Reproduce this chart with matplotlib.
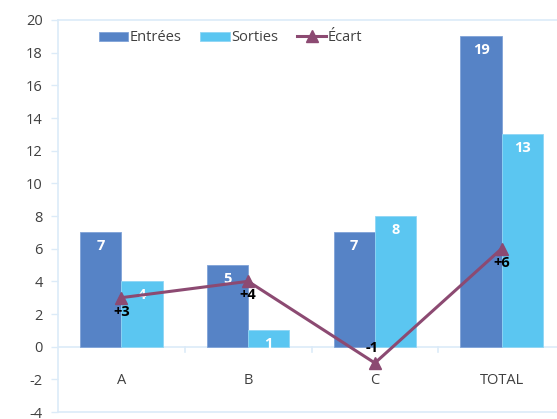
import matplotlib
matplotlib.use("Agg")
import matplotlib.pyplot as plt
import numpy as np

plt.rcParams['font.family'] = ['Open Sans', 'DejaVu Sans']

categories = ["A", "B", "C", "TOTAL"]
entrees = [7, 5, 7, 19]
sorties = [4, 1, 8, 13]
ecart = [3, 4, -1, 6]
ecart_labels = ["+3", "+4", "-1", "+6"]
yticks = list(range(-4, 21, 2))

c_in = "#5683C6"
c_out = "#5BC6F1"
c_line = "#8C4A72"
c_axis = "#DCEBF8"
c_text = "#404040"

fig = plt.figure(figsize=(5.57, 4.19), dpi=100)
ax = fig.add_axes([58 / 557, 1 - 412 / 419, 507 / 557, 392 / 419])

x = np.arange(len(categories))
w = 0.325
b1 = ax.bar(x - w / 2, entrees, w, color=c_in, edgecolor="#7FA3D8", linewidth=0.6, label="Entrées", zorder=2)
b2 = ax.bar(x + w / 2, sorties, w, color=c_out, edgecolor="#8FD6F5", linewidth=0.6, label="Sorties", zorder=2)
ln, = ax.plot(x, ecart, color=c_line, lw=2.2, marker="^", markersize=8, label="Écart", zorder=4)

for rect, v in zip(list(b1) + list(b2), entrees + sorties):
    ax.annotate(str(v), (rect.get_x() + rect.get_width() / 2, v), xytext=(0, -5),
                textcoords="offset points", ha="center", va="top", color="white",
                fontsize=10.5, fontweight="bold", zorder=3)

for xi, v, lab in zip(x, ecart, ecart_labels):
    if v >= 0:
        ax.annotate(lab, (xi, v), xytext=(0, -5), textcoords="offset points",
                    ha="center", va="top", color="black", fontsize=10.5, fontweight="bold", zorder=5)
    else:
        ax.annotate(lab, (xi, v), xytext=(-2, 6), textcoords="offset points",
                    ha="center", va="bottom", color="black", fontsize=10.5, fontweight="bold", zorder=5)

ax.set_xlim(-0.5, 3.5)
ax.set_ylim(-4, 20)
ax.set_yticks(yticks)
ax.set_yticklabels([str(t) for t in yticks], color=c_text, fontsize=10.5)
ax.tick_params(axis="y", length=5, color=c_axis, width=1, pad=6)

# category boundaries as ticks on the zero line
ax.set_xticks([])
ax.axhline(0, color=c_axis, lw=1.2, zorder=1)
for b in [0.5, 1.5, 2.5]:
    ax.plot([b, b], [0, -0.3], color=c_axis, lw=1.2, zorder=1, clip_on=False)
for xi, cat in zip(x, categories):
    ax.text(xi, -2.05, cat, ha="center", va="center", color=c_text, fontsize=10.5)

for side in ["left", "top", "bottom", "right"]:
    ax.spines[side].set_color(c_axis)
    ax.spines[side].set_linewidth(1.2)

leg = ax.legend(handles=[b1, b2, ln], loc="upper left", bbox_to_anchor=(0.055, 1.007),
                ncol=3, frameon=False, fontsize=10.5, handlelength=2.0, handleheight=0.6,
                handletextpad=0.1, columnspacing=1.3, labelcolor=c_text)

fig.savefig("out.png", dpi=100)
